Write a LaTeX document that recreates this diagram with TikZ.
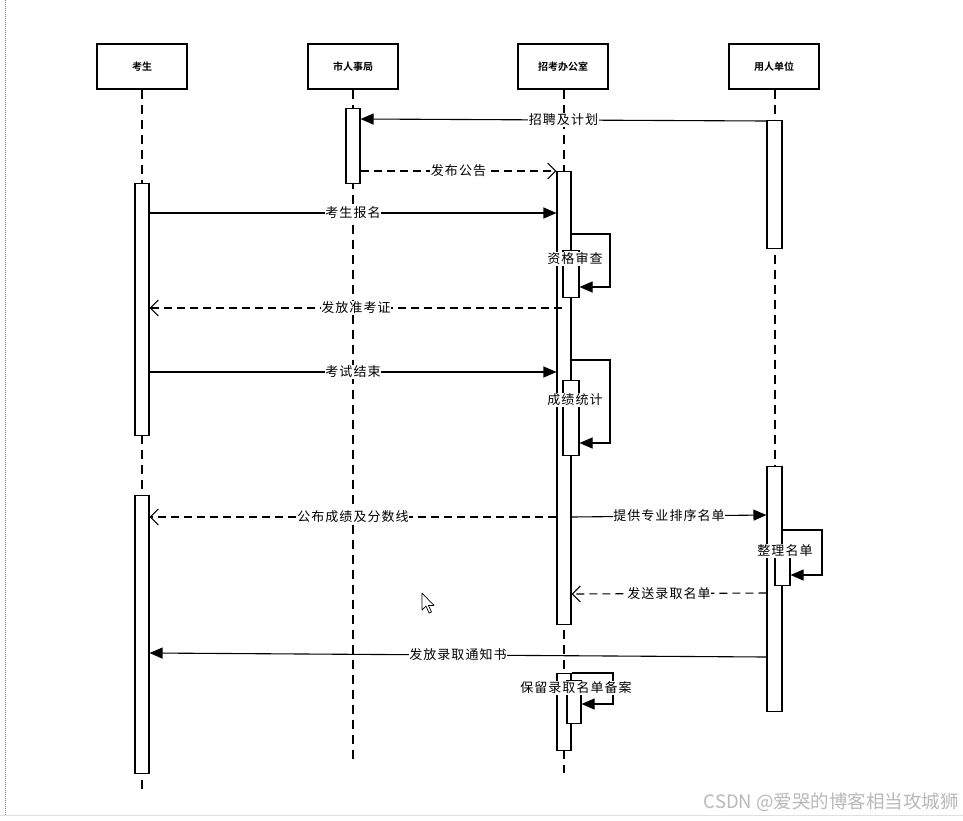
\documentclass[tikz,border=0pt]{standalone}
\usepackage{fontspec}
\setmainfont{Noto Sans CJK SC}[BoldFont={Noto Sans CJK SC Bold}]
\newfontfamily\lblfont{Noto Sans CJK SC}[LetterSpace=8]
\usetikzlibrary{arrows.meta}
\definecolor{mark}{RGB}{185,185,185}
\begin{document}
\begin{tikzpicture}[x=1pt,y=-1pt,
  head/.style={draw, line width=1.2pt, minimum width=90pt, minimum height=45pt,
    font=\bfseries\fontsize{10}{10}\selectfont, fill=white},
  act/.style={draw, line width=1.1pt, fill=white, minimum width=14pt, anchor=north, inner sep=0pt},
  life/.style={dash pattern=on 9pt off 6pt, line width=1.1pt},
  msg/.style={line width=1.1pt, -{Triangle[length=13pt,width=11pt]}},
  reply/.style={line width=1.1pt, dash pattern=on 8pt off 5pt, -{Straight Barb[length=8pt,width=16pt]}},
  lbl/.style={fill=white, inner sep=0.8pt, font=\lblfont\fontsize{13}{14}\selectfont},
]
\useasboundingbox (0,0) rectangle (963,820);
\fill[white] (0,0) rectangle (963,820);

% page frame
\draw[gray, line width=0.8pt, dash pattern=on 1pt off 1pt] (5,0) -- (5,815);
\draw[black!12, line width=0.8pt] (0,815) -- (963,815);

% participants
\node[head] (ks) at (142,66.5) {考生};
\node[head] (rs) at (353,66.5) {市人事局};
\node[head] (zk) at (563,66.5) {招考办公室};
\node[head] (yr) at (774,66.5) {用人单位};

% lifelines
\coordinate (ksE) at (142,793);
\coordinate (rsE) at (353,760);
\coordinate (zkE) at (564,773);
\coordinate (yrE) at (775,711);
\draw[life] (ks.south) -- (ksE);
\draw[life] (rs.south) -- (rsE);
\draw[life] (zk.south -| zkE) -- (zkE);
\draw[life] (yr.south -| yrE) -- (yrE);

% activation bars
\node[act, minimum height=75pt]  (rs1) at (353,108) {};
\node[act, minimum height=128pt, minimum width=15pt] (yr1) at (774.5,120) {};
\node[act, minimum height=453pt] (zk1) at (564,171) {};
\node[act, minimum height=252pt] (ks1) at (142,183) {};
\node[act, minimum height=278pt] (ks2) at (142,495) {};
\node[act, minimum height=245pt, minimum width=15pt] (yr2) at (774.5,466) {};
\node[act, minimum height=77pt]  (zk4) at (564,673) {};

% nested self-call bars
\node[act, minimum height=47pt, minimum width=16pt] (zk2) at (571,250) {};
\node[act, minimum height=75pt, minimum width=16pt] (zk3) at (571,380) {};
\node[act, minimum height=30pt, minimum width=15pt] (yr3) at (782.5,555) {};
\node[act, minimum height=43pt, minimum width=14pt] (zk5) at (574,680) {};

% messages
\draw[msg] (yr1.west |- 0,121) -- (rs1.east |- 0,119)
  node[lbl, pos=0.5] {招聘及计划};
\draw[reply] (rs1.east |- 0,171) -- (zk1.west |- 0,171)
  node[lbl, midway] {发布公告};
\draw[msg] (ks1.east |- 0,213) -- (zk1.west |- 0,213)
  node[lbl, midway] {考生报名};
\draw[msg] (zk1.east |- 0,234) -- (610,234) -- (610,287) -- (zk2.east |- 0,287);
\node[lbl] at (575,259) {资格审查};
\draw[reply] (zk2.west |- 0,308) -- (ks1.east |- 0,308)
  node[lbl, pos=0.5] {发放准考证};
\draw[msg] (ks1.east |- 0,372) -- (zk1.west |- 0,372)
  node[lbl, midway] {考试结束};
\draw[msg] (zk1.east |- 0,360) -- (610,360) -- (610,443) -- (zk3.east |- 0,443);
\node[lbl] at (575,400) {成绩统计};
\draw[reply] (zk1.west |- 0,517) -- (ks2.east |- 0,517)
  node[lbl, pos=0.5] {公布成绩及分数线};
\draw[msg] (zk1.east |- 0,517) -- (yr2.west |- 0,515)
  node[lbl, midway] {提供专业排序名单};
\draw[msg] (yr2.east |- 0,530) -- (822,530) -- (822,575) -- (yr3.east |- 0,575);
\node[lbl] at (785,551) {整理名单};
\draw[reply] (yr2.west |- 0,593) -- (zk1.east |- 0,594)
  node[lbl, midway] {发送录取名单};
\draw[msg] (yr2.west |- 0,657) -- (ks2.east |- 0,653)
  node[lbl, pos=0.5] {发放录取通知书};
\draw[msg] (zk4.east |- 0,673) -- (613,673) -- (613,704) -- (zk5.east |- 0,704);
\node[lbl] at (576,688) {保留录取名单备案};

% mouse pointer
\draw[line width=0.7pt, fill=white, line join=round]
  (422,593) -- (422,610) -- (426,606) -- (429,613) -- (431.5,612) -- (428.5,605.5) -- (434,605.5) -- cycle;

% watermark
\node[text=mark, font=\fontsize{18.5}{19}\selectfont, anchor=east, inner sep=0pt] (wm) at (959,802)
  {CSDN @爱哭的博客相当攻城狮};
\end{tikzpicture}
\end{document}
